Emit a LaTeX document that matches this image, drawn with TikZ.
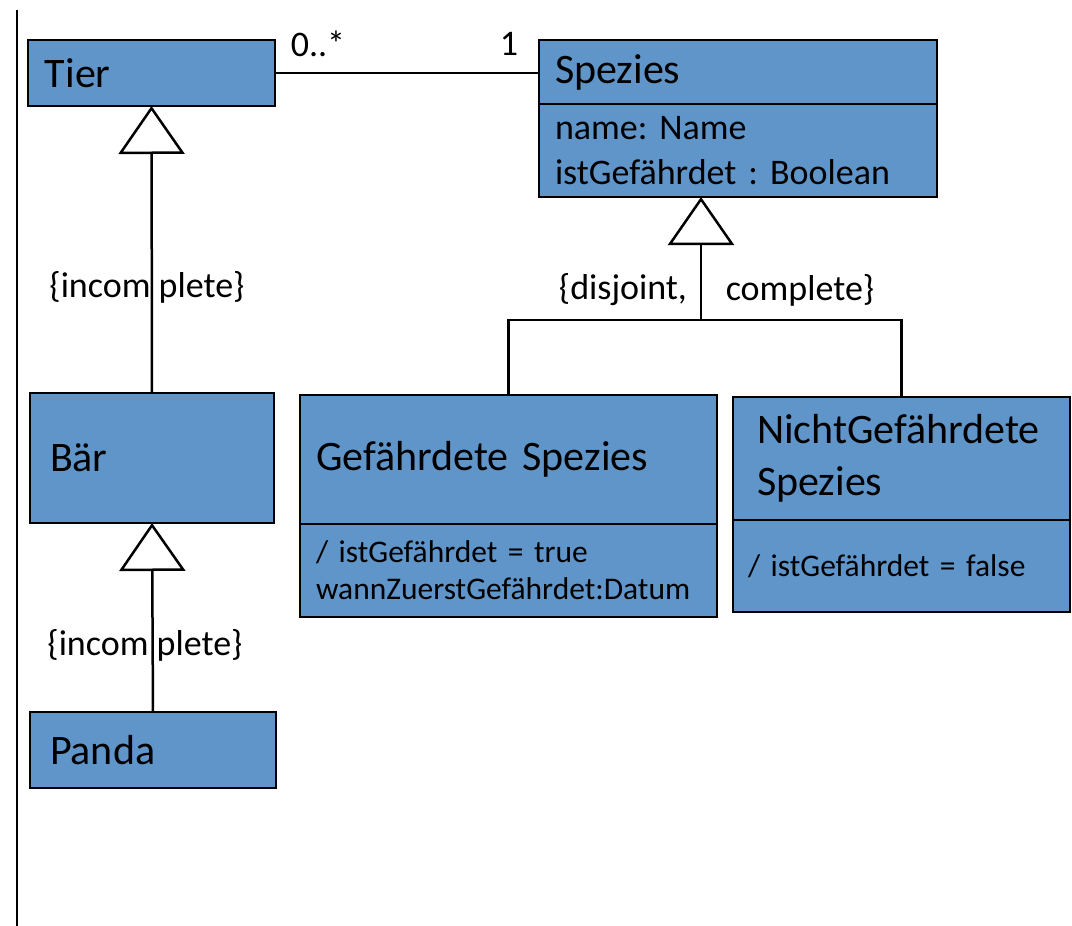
\documentclass[tikz,border=0pt]{standalone}
\usepackage{fontspec}
\setmainfont{Carlito}
\frenchspacing
\usetikzlibrary {arrows.meta,
                 positioning}
\definecolor{umlblue}{RGB}{96,149,201}
\tikzset{
        cls/.style={draw, fill=umlblue, line width=2.5pt, outer sep=0pt,
                    align=left, inner xsep=16pt, inner ysep=0pt},
        head/.style={cls, font=\fontsize{42}{52}\selectfont},
        attr/.style={cls, font=\fontsize{36}{45}\selectfont},
        attrs/.style={cls, font=\fontsize{31.5}{37}\selectfont},
        lbl/.style={font=\fontsize{36}{44}\selectfont, inner sep=0pt},
        gen/.style={-{Triangle[open, length=48pt, width=66pt]}, line width=2.5pt},
        assoc/.style={line width=2.5pt},
 }

\begin{document}
\begin{tikzpicture}[x=1pt, y=-1pt]
    \useasboundingbox (0,0) rectangle (1072,926);
    \draw[assoc] (17,10) -- (17,926);

    \node[head, anchor=north west, inner xsep=17pt, text width=213pt, minimum height=66pt] (tier) at (28,40) {Tier};
    \node[head, anchor=north west, inner xsep=20pt, text width=204pt, minimum height=130pt] (baer) at (30,393) {Bär};
    \node[head, anchor=north west, inner xsep=20pt, text width=206pt, minimum height=76pt] (panda) at (30,712) {Panda};

    \node[head, anchor=north west, text width=366pt, minimum height=64pt] (spez) at (539,40) {Spezies};
    \node[attr, text width=366pt, minimum height=93pt, below=0pt of spez] (spezattr) {name: Name\\istGefährdet : Boolean};

    \node[head, anchor=north west, text width=385pt, minimum height=129pt] (gef) at (300,395) {Gefährdete Spezies};
    \node[attrs, text width=385pt, minimum height=93pt, below=0pt of gef] (gefattr) {/ istGefährdet = true\\wannZuerstGefährdet:Datum};

    \node[head, anchor=north west, inner xsep=24pt, text width=289pt, minimum height=123pt] (nicht) at (733,397) {NichtGefährdete\\Spezies};
    \node[attrs, inner xsep=15pt, text width=307pt, minimum height=92pt, below=0pt of nicht] (nichtattr) {/ istGefährdet = false};

    \draw[assoc] (tier.east) -- (tier.east -| spez.west);
    \node[lbl] (mult0) at (318,44) {0..*};
    \node[lbl] (mult1) at (509,44) {1};

    \draw[gen] (baer.north) -- (tier.south);
    \draw[gen] (panda.north) -- (baer.south);
    \node[lbl] (inc1) at (147,287) {\{incom plete\}};
    \node[lbl] (inc2) at (145,645) {\{incom plete\}};

    \coordinate (fork) at (701,320);
    \draw[assoc] (gef.north) |- (fork) -| (nicht.north);
    \draw[gen] (fork) -- (fork |- spezattr.south);
    \node[lbl] (disj) at (623,290) {\{disjoint,};
    \node[lbl] (compl) at (800,290) {complete\}};
\end{tikzpicture}
\end{document}
